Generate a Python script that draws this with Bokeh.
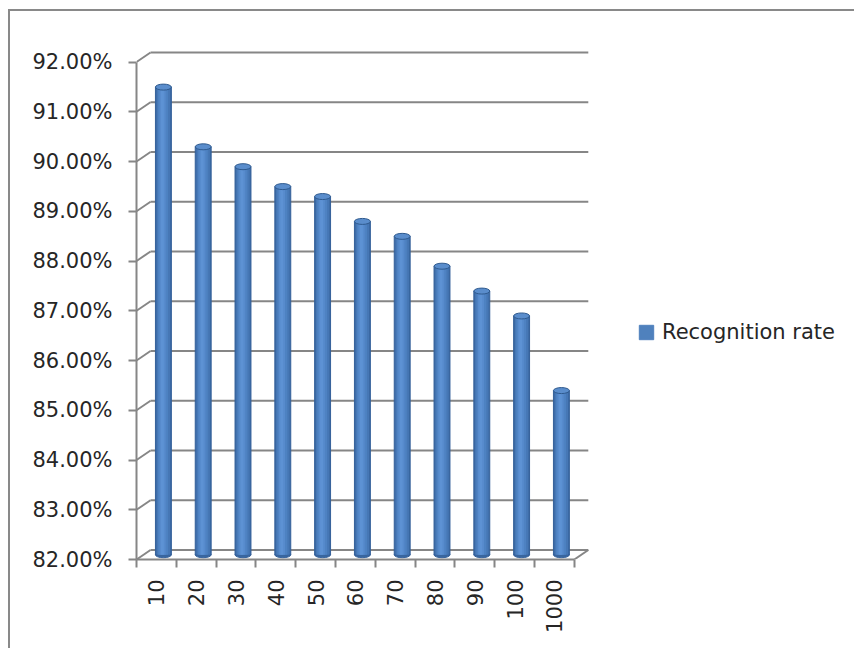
import math
from bokeh.plotting import figure
from bokeh.models import (FixedTicker, NumeralTickFormatter, Range1d, Legend,
                          LegendItem, ColumnDataSource)
from bokeh.embed import file_html
from bokeh.resources import INLINE

# ---------------- data ----------------
categories = ["10", "20", "30", "40", "50", "60", "70", "80", "90", "100", "1000"]
recognition_rate = [0.914, 0.902, 0.898, 0.894, 0.892, 0.887, 0.884, 0.878, 0.873, 0.868, 0.853]
y_ticks = [0.82, 0.83, 0.84, 0.85, 0.86, 0.87, 0.88, 0.89, 0.90, 0.91, 0.92]
series_name = "Recognition rate"

# ---------------- geometry / style ----------------
PX_X = 39.8          # px per category
PX_Y = 4975.0        # px per unit of rate (49.75 px per 1%)
CANVAS_X0, CANVAS_Y0 = 10, 11      # canvas origin on the page (margin + border)
FRAME_L, FRAME_T, FRAME_B, FRAME_R = 136, 40, 559, 856
W, H = 856 - CANVAS_X0, 650 - CANVAS_Y0
DX = 14 / PX_X       # depth offset in x units
DY = 9.5 / PX_Y      # depth offset in y units
Y0 = y_ticks[0]
GRID = "#868686"
TXT = "#262626"
FONT = "DejaVu Sans"
FS = "21px"

n = len(categories)
x_end = (FRAME_R - FRAME_L) / PX_X
y_end = Y0 + (FRAME_B - FRAME_T) / PX_Y

p = figure(width=W, height=H, output_backend="svg", toolbar_location=None,
           x_range=Range1d(0, x_end), y_range=Range1d(Y0, y_end),
           min_border_left=FRAME_L - CANVAS_X0, min_border_top=FRAME_T - CANVAS_Y0,
           min_border_bottom=650 - FRAME_B, min_border_right=0)
p.styles = {"margin-left": "8px", "margin-top": "9px",
            "border-top": "2px solid #898989", "border-left": "2px solid #898989"}
p.outline_line_color = None
p.background_fill_color = "white"
p.border_fill_color = "white"
p.xgrid.visible = False
p.ygrid.visible = False

# back wall gridlines
p.segment(x0=[DX] * len(y_ticks), y0=[t + DY for t in y_ticks],
          x1=[n + DX] * len(y_ticks), y1=[t + DY for t in y_ticks],
          line_color=GRID, line_width=2)
# side wall diagonals
p.segment(x0=[0] * len(y_ticks), y0=y_ticks,
          x1=[DX] * len(y_ticks), y1=[t + DY for t in y_ticks],
          line_color=GRID, line_width=2)
# floor right edge
p.segment(x0=[n], y0=[Y0], x1=[n + DX], y1=[Y0 + DY], line_color=GRID, line_width=2)

# cylinders
xc = [i + 0.5 + DX / 2 for i in range(n)]
base = Y0 + DY / 2
tops = [v + DY / 2 for v in recognition_rate]
src = ColumnDataSource(dict(x=xc, top=tops, bottom=[base] * n))
BW = 0.40
EH = 6 / PX_Y
p.ellipse(x="x", y="bottom", width=BW, height=EH, source=src,
          fill_color="#3a679f", line_color="#34609a", line_width=1)
p.vbar(x="x", top="top", bottom="bottom", width=BW, source=src,
       fill_color="#3b69a3", line_color="#34609a", line_width=1)
layers = [(0.84, "#4677b5", 0.0), (0.62, "#4e82c2", -0.01), (0.38, "#578bcd", -0.02),
          (0.18, "#5d92d4", -0.025)]
for wf, col, off in layers:
    p.vbar(x=[v + off for v in xc], top=tops, bottom=[base] * n, width=BW * wf,
           fill_color=col, line_color=None)
p.ellipse(x="x", y="top", width=BW, height=EH, source=src,
          fill_color="#5a8dcc", line_color="#2f5a8e", line_width=1)

# legend (swatch renderer sits outside the visible range)
leg_r = p.vbar(x=[-10], top=[Y0], bottom=[Y0 - 0.01], width=0.4,
               fill_color="#4F81BD", line_color="#4F81BD")
legend = Legend(items=[LegendItem(label=series_name, renderers=[leg_r])],
                location=(501, 215))
legend.border_line_color = None
legend.background_fill_alpha = 0
legend.padding = 0
legend.margin = 0
legend.glyph_width = 18
legend.glyph_height = 18
legend.label_standoff = 7
legend.label_height = 20
legend.label_text_font = FONT
legend.label_text_font_size = FS
legend.label_text_color = TXT
p.add_layout(legend)

# y axis (front edge)
ya = p.yaxis[0]
ya.ticker = FixedTicker(ticks=y_ticks, minor_ticks=[])
ya.formatter = NumeralTickFormatter(format="0.00%")
ya.bounds = (y_ticks[0], y_ticks[-1])
ya.axis_line_color = GRID
ya.axis_line_width = 2
ya.major_tick_line_color = GRID
ya.major_tick_line_width = 2
ya.major_tick_out = 8
ya.major_tick_in = 0
ya.minor_tick_line_color = None
ya.major_label_standoff = 16
ya.major_label_text_font = FONT
ya.major_label_text_font_size = FS
ya.major_label_text_color = TXT

# x axis (front floor edge)
xa = p.xaxis[0]
centers = [i + 0.5 for i in range(n)]
xa.ticker = FixedTicker(ticks=centers, minor_ticks=[float(i) for i in range(n + 1)])
xa.major_label_overrides = {c: lab for c, lab in zip(centers, categories)}
xa.bounds = (0, n)
xa.axis_line_color = GRID
xa.axis_line_width = 2
xa.major_tick_line_color = None
xa.major_tick_out = 0
xa.major_tick_in = 0
xa.minor_tick_line_color = GRID
xa.minor_tick_line_width = 2
xa.minor_tick_out = 8
xa.minor_tick_in = 0
xa.major_label_orientation = math.pi / 2
xa.major_label_standoff = 12
xa.major_label_text_font = FONT
xa.major_label_text_font_size = FS
xa.major_label_text_color = TXT

open("out.html", "w").write(file_html(p, INLINE))
